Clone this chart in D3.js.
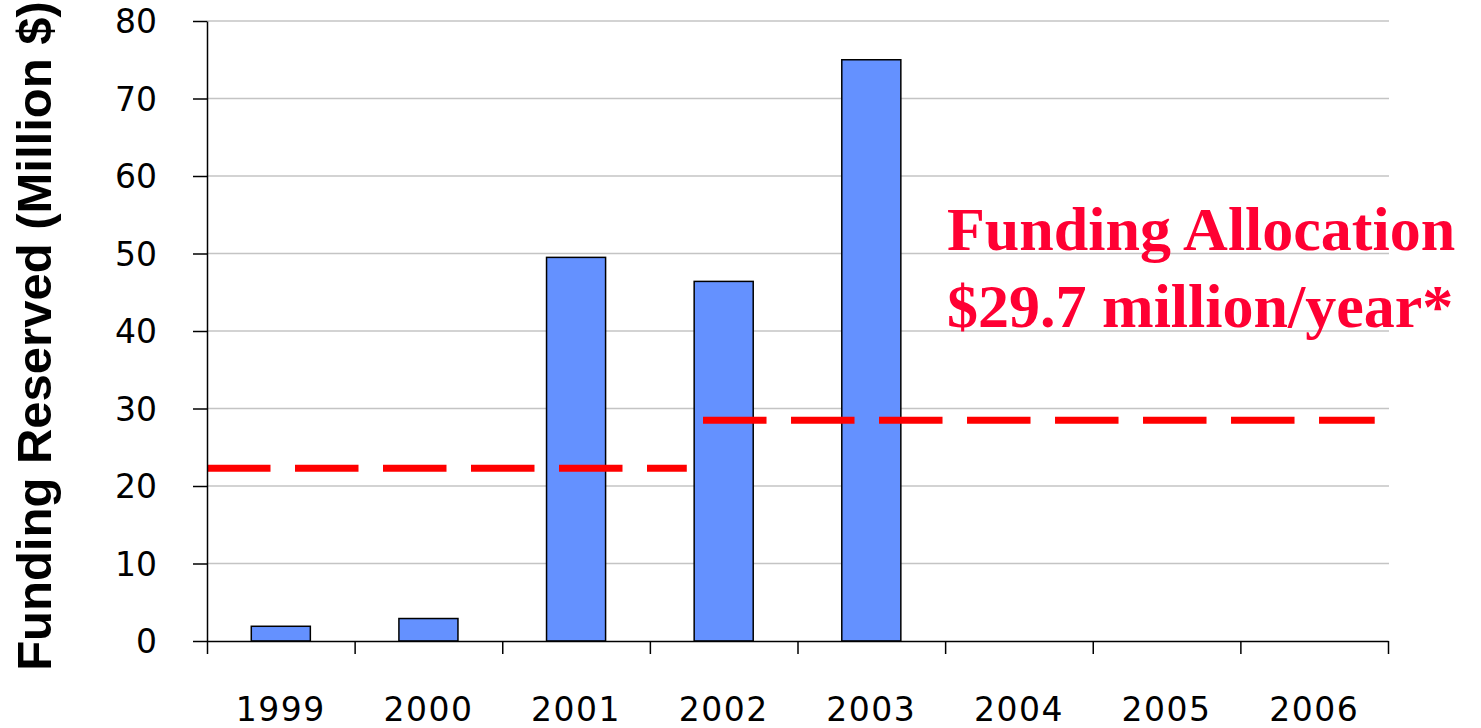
<!DOCTYPE html>
<html>
<head>
<meta charset="utf-8">
<script src="https://cdn.jsdelivr.net/npm/d3@7"></script>
<style>
  body { margin: 0; background: #fff; }
  .tick text { font-family: "DejaVu Sans", sans-serif; fill: #000; }
</style>
</head>
<body>
<svg id="chart" width="1481" height="728"></svg>
<script>
const years = ["1999", "2000", "2001", "2002", "2003", "2004", "2005", "2006"];
const reserved = [1.9, 2.9, 49.5, 46.4, 75.0, 0, 0, 0];
const yTicks = [0, 10, 20, 30, 40, 50, 60, 70, 80];

// dashed allocation levels, start/end in year slots (0 = start of 1999)
const allocStart = [0, 3.36];
const allocEnd = [3.25, 7.91];
const allocValue = [22.3, 28.5];

const annotation = ["Funding Allocation", "$29.7 million/year*"];

const svg = d3.select("#chart"),
    width = +svg.attr("width"),
    height = +svg.attr("height"),
    margin = {top: 21, right: 93, bottom: 87, left: 207},
    innerW = width - margin.left - margin.right,
    innerH = height - margin.top - margin.bottom;

const g = svg.append("g")
    .attr("transform", "translate(" + margin.left + "," + margin.top + ")");

const x = d3.scaleBand().domain(years).range([0, innerW]).padding(0);
const xSlot = d3.scaleLinear().domain([0, years.length]).range([0, innerW]);
const y = d3.scaleLinear().domain([0, 80]).range([innerH, 0]);

// grid
g.append("g")
    .selectAll("line")
    .data(yTicks.filter(d => d > 0))
    .enter().append("line")
    .attr("x1", 0)
    .attr("x2", innerW + 1)
    .attr("y1", d => y(d))
    .attr("y2", d => y(d))
    .attr("stroke", "#c4c4c4")
    .attr("stroke-width", 1.5);

// bars
const barW = x.bandwidth() * 0.4;
g.append("g")
    .selectAll("rect")
    .data(years.map((yr, i) => ({year: yr, value: reserved[i]})).filter(d => d.value > 0))
    .enter().append("rect")
    .attr("x", d => x(d.year) + (x.bandwidth() - barW) / 2)
    .attr("y", d => y(d.value))
    .attr("width", barW)
    .attr("height", d => y(0) - y(d.value))
    .attr("fill", "#6491ff")
    .attr("stroke", "#000")
    .attr("stroke-width", 1.5);

// allocation dashes
g.append("g")
    .selectAll("line")
    .data(allocValue.map((v, i) => ({start: allocStart[i], end: allocEnd[i], value: v})))
    .enter().append("line")
    .attr("x1", d => xSlot(d.start))
    .attr("x2", d => xSlot(d.end))
    .attr("y1", d => y(d.value))
    .attr("y2", d => y(d.value))
    .attr("stroke", "#ff0000")
    .attr("stroke-width", 7)
    .attr("stroke-dasharray", "63.5,24.5");

// y axis
const yAxis = g.append("g")
    .call(d3.axisLeft(y).tickValues(yTicks).tickSize(14).tickSizeOuter(0).tickPadding(36));
yAxis.selectAll("text").style("font-size", "33px").attr("dy", "0.36em");
yAxis.selectAll("line, path").attr("stroke", "#000").attr("stroke-width", 1.5);

// x axis tick marks at slot boundaries
const xTicksG = g.append("g")
    .attr("transform", "translate(0," + innerH + ")")
    .call(d3.axisBottom(xSlot).tickValues(d3.range(years.length + 1)).tickSize(13).tickSizeOuter(0).tickFormat(""));
xTicksG.selectAll("line, path").attr("stroke", "#000").attr("stroke-width", 1.5);

// x labels at band centres
const xLab = g.append("g")
    .attr("transform", "translate(0," + innerH + ")")
    .call(d3.axisBottom(x).tickSize(0));
xLab.select(".domain").remove();
xLab.selectAll("text")
    .attr("y", 80)
    .attr("dy", 0)
    .style("font-size", "33px")
    .style("letter-spacing", "1.5px");

// y axis title
svg.append("text")
    .attr("transform", "translate(51," + 336 + ") rotate(-90)")
    .attr("text-anchor", "middle")
    .style("font-family", "'Liberation Sans', Arial, sans-serif")
    .style("font-weight", "bold")
    .style("font-size", "49px")
    .text("Funding Reserved (Million $)");

// annotation
svg.append("g")
    .selectAll("text")
    .data(annotation)
    .enter().append("text")
    .attr("x", 947)
    .attr("y", (d, i) => 250 + i * 77)
    .style("font-family", "'Liberation Serif', 'Times New Roman', serif")
    .style("font-weight", "bold")
    .style("font-size", "62px")
    .attr("fill", "#ff0033")
    .text(d => d);
</script>
</body>
</html>
